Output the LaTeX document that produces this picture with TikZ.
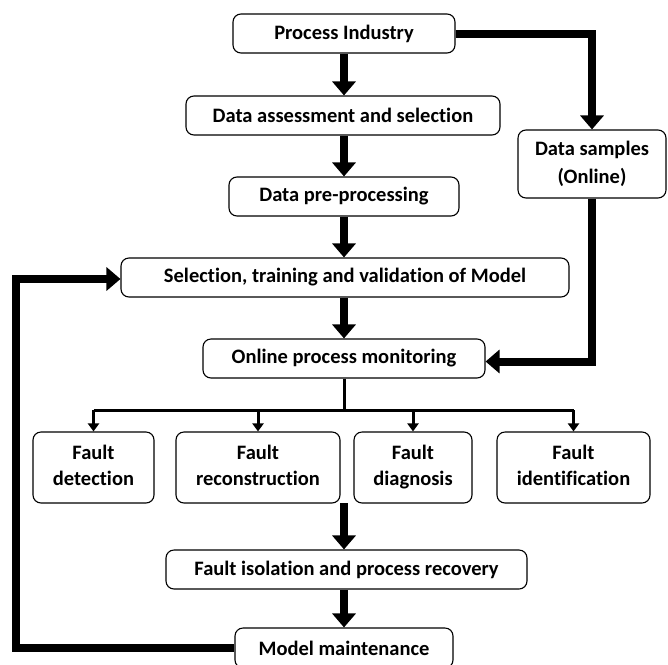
\documentclass[tikz,border=0pt]{standalone}
\usepackage{fontspec}
\setmainfont[Ligatures=NoCommon]{Carlito}
\usetikzlibrary{arrows.meta}
\begin{document}
\begin{tikzpicture}[x=1pt,y=-1pt,
  box/.style={draw=black, line width=1.1pt, rounded corners=8pt, inner sep=0pt,
    font=\fontsize{20.5}{26}\selectfont\bfseries, align=center, fill=white},
  bigarrow/.style={line width=8pt, -{Triangle[width=23pt,length=14pt]}},
  smallarrow/.style={line width=3pt, -{Triangle[width=11pt,length=8pt]}}]
\useasboundingbox (0,0) rectangle (668,664);
\node[box, minimum width=222pt, minimum height=39pt] (pi) at (344,33.5) {Process Industry};
\node[box, minimum width=314pt, minimum height=39pt] (das) at (343,115.5) {Data assessment and selection};
\node[box, minimum width=230pt, minimum height=39pt] (dpp) at (344,196.5) {Data pre-processing};
\node[box, minimum width=148pt, minimum height=68pt, font=\fontsize{20.5}{28}\selectfont\bfseries] (ds) at (592,164) {Data samples\strut\\(Online)\strut};
\node[box, minimum width=448pt, minimum height=39pt] (sel) at (345,277.5) {Selection, training and validation of Model};
\node[box, minimum width=282pt, minimum height=39pt] (opm) at (344,358.5) {Online process monitoring};
\node[box, minimum width=121pt, minimum height=71pt] (fd) at (93.5,467.5) {Fault\strut\\detection\strut};
\node[box, minimum width=164pt, minimum height=71pt] (fr) at (258,467.5) {Fault\strut\\reconstruction\strut};
\node[box, minimum width=118pt, minimum height=71pt] (fdg) at (413,467.5) {Fault\strut\\diagnosis\strut};
\node[box, minimum width=153pt, minimum height=71pt] (fi) at (573.5,467.5) {Fault\strut\\identification\strut};
\node[box, minimum width=361pt, minimum height=39pt] (fipr) at (346.5,569.5) {Fault isolation and process recovery};
\node[box, minimum width=218pt, minimum height=40pt] (mm) at (344,648) {Model maintenance};
\coordinate (br) at (344,410);
\coordinate (fb) at (344,503);
\coordinate (lft) at (16,648);
% main vertical flow
\draw[bigarrow] (pi.south -| 344,0) -- (das.north -| 344,0);
\draw[bigarrow] (das.south -| 344,0) -- (dpp.north -| 344,0);
\draw[bigarrow] (dpp.south -| 344,0) -- (sel.north -| 344,0);
\draw[bigarrow] (sel.south -| 344,0) -- (opm.north);
\draw[bigarrow] (fb) -- (fb |- fipr.north);
\draw[bigarrow] (fipr.south -| 344,0) -- (mm.north);
% online branch
\draw[bigarrow] (pi.east) -| (ds.north);
\draw[bigarrow] (ds.south) |- ([yshift=-3pt]opm.east);
% feedback
\draw[bigarrow] (mm.west) -- (lft) |- ([yshift=-1.5pt]sel.west);
% fan out
\draw[line width=3pt] (opm.south) -- (br);
\draw[line width=3pt] (br -| fd.north) -- (br -| fi.north);
\draw[smallarrow] (br -| fd.north) -- (fd.north);
\draw[smallarrow] (br -| fr.north) -- (fr.north);
\draw[smallarrow] (br -| fdg.north) -- (fdg.north);
\draw[smallarrow] (br -| fi.north) -- (fi.north);
\end{tikzpicture}
\end{document}
